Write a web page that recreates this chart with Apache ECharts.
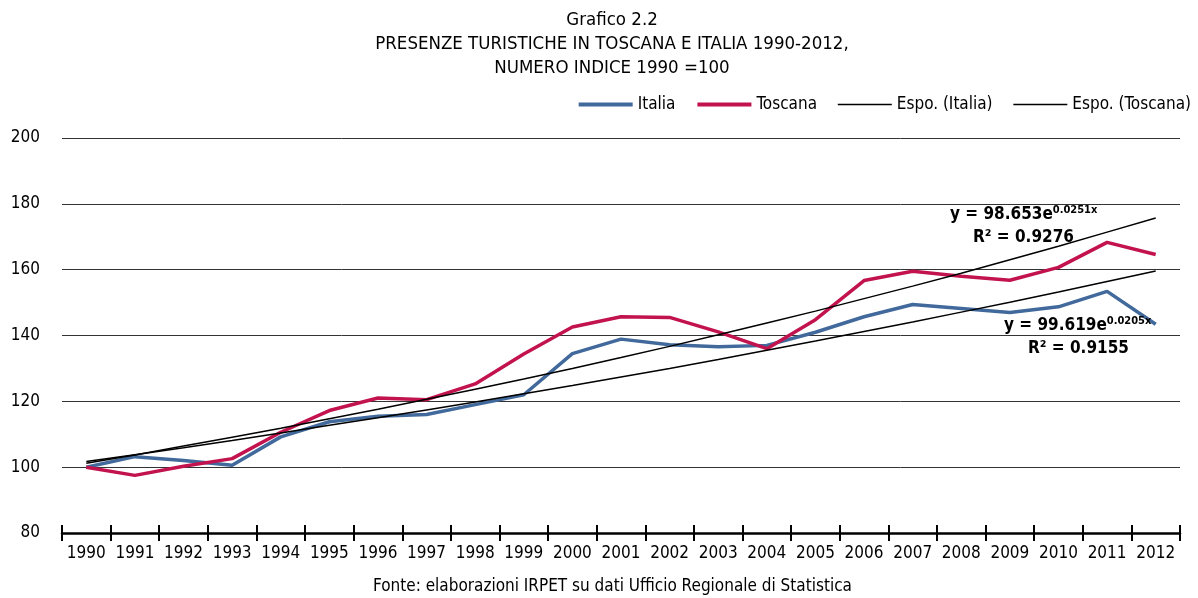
<!DOCTYPE html>
<html>
<head>
<meta charset="utf-8">
<script src="https://cdn.jsdelivr.net/npm/echarts@6/dist/echarts.min.js"></script>
<style>
  html, body { margin: 0; padding: 0; background: #fff; }
  #chart { width: 1198px; height: 598px; }
</style>
</head>
<body>
<div id="chart"></div>
<script>
const FONT = '"Liberation Sans Narrow", "DejaVu Sans Condensed", "Liberation Sans", sans-serif';

const years = ['1990', '1991', '1992', '1993', '1994', '1995', '1996', '1997', '1998', '1999', '2000',
  '2001', '2002', '2003', '2004', '2005', '2006', '2007', '2008', '2009', '2010', '2011', '2012'];

// valori
const italia = [100, 103.2, 102, 100.6, 109.2, 113.8, 115.5, 116, 119, 122, 134.5,
  138.9, 137.2, 136.6, 137, 141, 145.7, 149.4, 148.2, 147, 148.7, 153.4, 143.4];
const toscana = [100, 97.5, 100.3, 102.6, 110.6, 117.2, 121, 120.5, 125.3, 134.4, 142.6,
  145.7, 145.5, 141.1, 136, 144.8, 156.7, 159.5, 158, 156.8, 160.7, 168.3, 164.6];

// linee di tendenza esponenziali
const espoItalia = [101.7, 103.8, 105.9, 108.1, 110.4, 112.7, 115.0, 117.4, 119.8, 122.3, 124.8,
  127.4, 130.0, 132.7, 135.5, 138.3, 141.2, 144.1, 147.1, 150.1, 153.2, 156.4, 159.6];
const espoToscana = [101.2, 103.7, 106.4, 109.1, 111.8, 114.7, 117.6, 120.6, 123.7, 126.8, 130.0,
  133.3, 136.7, 140.2, 143.8, 147.4, 151.2, 155.0, 158.9, 163.0, 167.1, 171.4, 175.7];

const yTicks = { min: 80, max: 200, interval: 20 };

const titleLines = ['Grafico 2.2', 'PRESENZE TURISTICHE IN TOSCANA E ITALIA 1990-2012,', 'NUMERO INDICE 1990 =100'];
const fonte = 'Fonte: elaborazioni IRPET su dati Ufficio Regionale di Statistica';

const option = {
  animation: false,
  backgroundColor: '#fff',
  textStyle: { fontFamily: FONT },
  title: {
    text: titleLines.join('\n'),
    left: 607,
    textAlign: 'center',
    top: 3,
    textStyle: { fontFamily: FONT, fontSize: 18.5, fontWeight: 'normal', color: '#000', lineHeight: 24 }
  },
  legend: {
    right: 2,
    top: 91,
    itemWidth: 54,
    itemHeight: 10,
    itemGap: 20,
    itemStyle: { opacity: 0 },
    textStyle: { fontFamily: FONT, fontSize: 17, color: '#000' },
    data: [
      { name: 'Italia', lineStyle: { width: 4 } },
      { name: 'Toscana', lineStyle: { width: 4 } },
      { name: 'Espo. (Italia)', lineStyle: { width: 1.5 } },
      { name: 'Espo. (Toscana)', lineStyle: { width: 1.5 } }
    ]
  },
  grid: { left: 62, right: 18, top: 138, bottom: 65 },
  xAxis: [
    {
      type: 'category',
      data: years,
      boundaryGap: true,
      axisLine: { lineStyle: { color: '#000', width: 2.5 } },
      axisTick: { show: true, interval: 0, length: 8, lineStyle: { color: '#000', width: 2 } },
      axisLabel: { interval: 0, color: '#000', fontFamily: FONT, fontSize: 17, margin: 12 }
    },
    {
      type: 'category',
      data: years,
      position: 'bottom',
      boundaryGap: true,
      axisLine: { show: false },
      axisTick: { show: true, interval: 0, inside: true, length: 8, lineStyle: { color: '#000', width: 2 } },
      axisLabel: { show: false }
    }
  ],
  yAxis: {
    type: 'value',
    min: yTicks.min,
    max: yTicks.max,
    interval: yTicks.interval,
    axisLine: { show: false },
    axisTick: { show: false },
    axisLabel: { color: '#000', fontFamily: FONT, fontSize: 17, margin: 22 },
    splitLine: { lineStyle: { color: '#333', width: 1 } }
  },
  series: [
    {
      name: 'Italia', type: 'line', data: italia, symbol: 'none',
      lineStyle: { color: '#41699B', width: 3.5 }, itemStyle: { color: '#41699B' }, z: 3
    },
    {
      name: 'Toscana', type: 'line', data: toscana, symbol: 'none',
      lineStyle: { color: '#C2134F', width: 3.5 }, itemStyle: { color: '#C2134F' }, z: 3
    },
    {
      name: 'Espo. (Italia)', type: 'line', data: espoItalia, symbol: 'none',
      lineStyle: { color: '#000', width: 1.5 }, itemStyle: { color: '#000' }, z: 4
    },
    {
      name: 'Espo. (Toscana)', type: 'line', data: espoToscana, symbol: 'none',
      lineStyle: { color: '#000', width: 1.5 }, itemStyle: { color: '#000' }, z: 4
    }
  ],
  graphic: [
    {
      type: 'text', left: 950, top: 205, z: 10,
      style: {
        text: '{b|y = 98.653e}{s|0.0251x}', fill: '#000',
        rich: {
          b: { fontFamily: FONT, fontSize: 17, fontWeight: 'bold' },
          s: { fontFamily: FONT, fontSize: 11, fontWeight: 'bold', verticalAlign: 'top', padding: [0, 0, 8, 0] }
        }
      }
    },
    {
      type: 'text', left: 973, top: 229, z: 10,
      style: { text: 'R² = 0.9276', fill: '#000', font: 'bold 17px ' + FONT }
    },
    {
      type: 'text', left: 1004, top: 316, z: 10,
      style: {
        text: '{b|y = 99.619e}{s|0.0205x}', fill: '#000',
        rich: {
          b: { fontFamily: FONT, fontSize: 17, fontWeight: 'bold' },
          s: { fontFamily: FONT, fontSize: 11, fontWeight: 'bold', verticalAlign: 'top', padding: [0, 0, 8, 0] }
        }
      }
    },
    {
      type: 'text', left: 1028, top: 340, z: 10,
      style: { text: 'R² = 0.9155', fill: '#000', font: 'bold 17px ' + FONT }
    },
    {
      type: 'text', left: 373, top: 578, z: 10,
      style: { text: fonte, fill: '#000', font: '17px ' + FONT }
    }
  ]
};

const chart = echarts.init(document.getElementById('chart'));
chart.setOption(option);
</script>
</body>
</html>
